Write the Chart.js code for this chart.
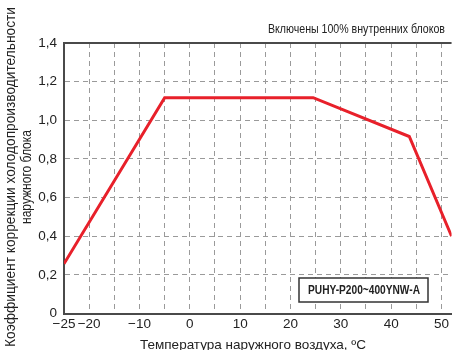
<!DOCTYPE html>
<html>
<head>
<meta charset="utf-8">
<script src="https://cdn.jsdelivr.net/npm/chart.js@4/dist/chart.umd.min.js"></script>
<style>
  html, body { margin: 0; padding: 0; background: #fff; }
  #wrap { width: 452px; height: 350px; }
</style>
</head>
<body>
<div id="wrap"><canvas id="chart" width="452" height="350"></canvas></div>
<script>
// outdoor temperature (°C) and capacity correction factor
const temps = [-25, -5, 24.5, 43.6, 52];
const factor = [0.257, 1.117, 1.117, 0.916, 0.40];
const xTicks = [-25, -20, -15, -10, -5, 0, 5, 10, 15, 20, 25, 30, 35, 40, 45, 50];
const yTicks = [0, 0.2, 0.4, 0.6, 0.8, 1.0, 1.2, 1.4];

const noteText = 'Включены 100% внутренних блоков';
const modelText = 'PUHY-P200~400YNW-A';
const yTitle = ['Коэффициент коррекции холодопроизводительности', 'наружного блока'];
const xTitle = 'Температура наружного воздуха, ºC';

const fmtX = (v) => (v < 0 ? '\u2212' + Math.abs(v) : String(v));
const fmtY = (v) => (v === 0 ? '0' : v.toFixed(1).replace('.', ','));

// the original uses a condensed face, so squeeze text to a given width
function squeeze(ctx, text, cx, cy, width) {
    const w = ctx.measureText(text).width;
    ctx.save();
    ctx.translate(cx, cy);
    ctx.scale(width / w, 1);
    ctx.textAlign = 'center';
    ctx.fillText(text, 0, 0);
    ctx.restore();
}

const textPlugin = {
    id: 'texts',
    afterDraw(chart) {
        const ctx = chart.ctx;
        const a = chart.chartArea;
        ctx.save();
        // top border of plot
        ctx.strokeStyle = '#4a4a4a';
        ctx.lineWidth = 2;
        ctx.beginPath();
        ctx.moveTo(a.left, a.top);
        ctx.lineTo(a.right, a.top);
        ctx.stroke();

        ctx.fillStyle = '#222';
        ctx.textBaseline = 'middle';
        ctx.font = '13px "Liberation Sans", sans-serif';
        squeeze(ctx, noteText, 356.5, 29, 177);

        // model box
        ctx.fillStyle = '#fff';
        ctx.fillRect(299, 278, 129, 24);
        ctx.strokeStyle = '#333';
        ctx.lineWidth = 1.5;
        ctx.strokeRect(299, 278, 129, 24);
        ctx.fillStyle = '#222';
        ctx.font = 'bold 13px "Liberation Sans", sans-serif';
        squeeze(ctx, modelText, 364, 290.5, 112);

        // axis titles
        ctx.font = '13.5px "Liberation Sans", sans-serif';
        squeeze(ctx, xTitle, 253, 345, 226);
        ctx.translate(11, 177);
        ctx.rotate(-Math.PI / 2);
        ctx.font = '14px "Liberation Sans", sans-serif';
        squeeze(ctx, yTitle[0], 0, 0, 340);
        squeeze(ctx, yTitle[1], 0, 16, 94);
        ctx.restore();
    }
};

const ctx = document.getElementById('chart').getContext('2d');
const chart = new Chart(ctx, {
    type: 'line',
    data: {
        datasets: [{
            data: temps.map((t, i) => ({ x: t, y: factor[i] })),
            borderColor: '#e8202a',
            borderWidth: 3,
            pointRadius: 0,
            fill: false,
            tension: 0
        }]
    },
    options: {
        responsive: false,
        animation: false,
        layout: { padding: { left: 0, right: 0, top: 43, bottom: 0 } },
        plugins: { legend: { display: false }, tooltip: { enabled: false } },
        scales: {
            x: {
                type: 'linear',
                min: -25,
                max: 52,
                afterBuildTicks: (s) => { s.ticks = xTicks.map((v) => ({ value: v })); },
                afterFit: (s) => { s.height = 36.5; },
                ticks: {
                    autoSkip: false,
                    maxRotation: 0,
                    padding: 3,
                    color: '#222',
                    font: { family: '"Liberation Sans", sans-serif', size: 13.5 },
                    callback: (v) => (v === -25 || v % 10 === 0 ? fmtX(v) : '')
                },
                grid: {
                    color: '#9a9a9a',
                    lineWidth: 1,
                    drawTicks: false
                },
                border: { display: true, color: '#4a4a4a', width: 2, dash: [5, 4] }
            },
            y: {
                min: 0,
                max: 1.4,
                afterBuildTicks: (s) => { s.ticks = yTicks.map((v) => ({ value: v })); },
                afterFit: (s) => { s.width = 64; },
                ticks: {
                    padding: 7,
                    color: '#222',
                    font: { family: '"Liberation Sans", sans-serif', size: 13.5 },
                    callback: (v) => fmtY(v)
                },
                grid: {
                    color: '#9a9a9a',
                    lineWidth: 1,
                    drawTicks: false
                },
                border: { display: true, color: '#4a4a4a', width: 2, dash: [5, 4] }
            }
        }
    },
    plugins: [textPlugin]
});
</script>
</body>
</html>
